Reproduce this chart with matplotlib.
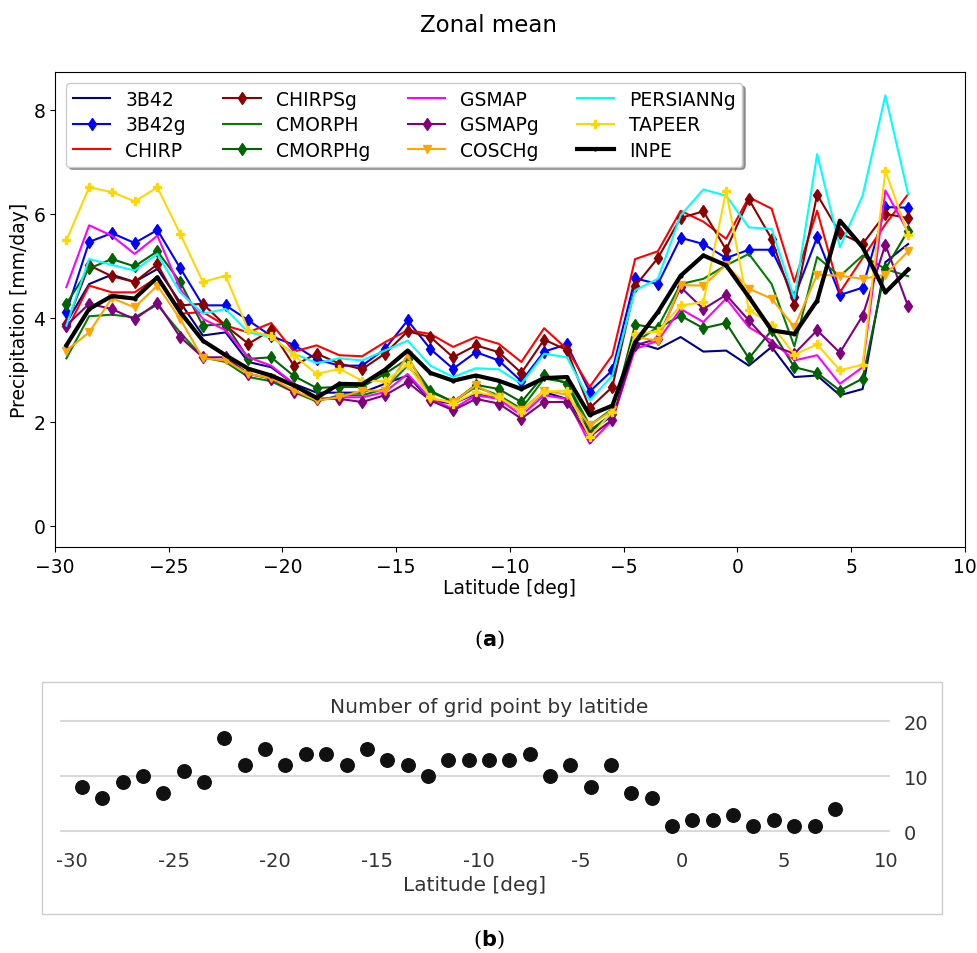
import matplotlib
matplotlib.use("Agg")
import matplotlib.pyplot as plt
from matplotlib.patches import Rectangle

lat = [-29.5, -28.5, -27.5, -26.5, -25.5, -24.5, -23.5, -22.5, -21.5, -20.5,
       -19.5, -18.5, -17.5, -16.5, -15.5, -14.5, -13.5, -12.5, -11.5, -10.5,
       -9.5, -8.5, -7.5, -6.5, -5.5, -4.5, -3.5, -2.5, -1.5, -0.5,
       0.5, 1.5, 2.5, 3.5, 4.5, 5.5, 6.5, 7.5]

b42 = [3.90, 4.65, 4.83, 4.69, 4.94, 4.30, 3.66, 3.72, 3.15, 3.05, 2.73, 2.56, 2.56, 2.56, 2.73, 2.89, 2.41, 2.35, 2.54, 2.48,
       2.19, 2.57, 2.44, 1.81, 2.12, 3.53, 3.40, 3.63, 3.35, 3.37, 3.08, 3.44, 2.86, 2.89, 2.51, 2.63, 5.07, 5.42]
b42g = [4.11, 5.46, 5.63, 5.44, 5.69, 4.96, 4.24, 4.24, 3.95, 3.65, 3.48, 3.20, 3.08, 3.08, 3.40, 3.95, 3.40, 3.02, 3.34, 3.18,
        2.78, 3.35, 3.49, 2.58, 2.99, 4.76, 4.65, 5.54, 5.42, 5.15, 5.31, 5.31, 4.40, 5.55, 4.44, 4.58, 6.13, 6.12]
chirp = [3.75, 4.62, 4.49, 4.49, 4.78, 4.08, 4.11, 3.85, 3.72, 3.90, 3.35, 3.47, 3.28, 3.26, 3.53, 3.76, 3.69, 3.44, 3.63, 3.50,
         3.15, 3.80, 3.40, 2.67, 3.28, 5.13, 5.28, 6.06, 5.85, 5.52, 6.32, 6.10, 4.69, 6.06, 4.49, 5.15, 5.80, 6.38]
chirpsg = [3.88, 5.01, 4.80, 4.69, 5.03, 4.24, 4.27, 3.85, 3.50, 3.76, 3.08, 3.31, 3.12, 3.01, 3.31, 3.74, 3.63, 3.24, 3.47, 3.34,
           2.94, 3.58, 3.38, 2.26, 2.67, 4.61, 5.15, 5.92, 6.05, 5.31, 6.28, 5.52, 4.24, 6.37, 5.63, 5.42, 6.00, 5.92]
cmorph = [3.22, 4.03, 4.06, 4.01, 4.25, 3.72, 3.24, 3.15, 2.86, 2.78, 2.57, 2.39, 2.51, 2.51, 2.63, 3.08, 2.57, 2.39, 2.67, 2.51,
          2.25, 2.83, 2.76, 1.93, 2.25, 3.53, 3.82, 4.65, 4.75, 5.01, 5.23, 4.65, 3.45, 5.17, 4.80, 5.20, 4.94, 4.80]
cmorphg = [4.27, 4.95, 5.13, 4.99, 5.28, 4.69, 3.85, 3.88, 3.21, 3.24, 2.88, 2.65, 2.67, 2.67, 2.92, 3.21, 2.60, 2.38, 2.71, 2.63,
           2.38, 2.90, 2.73, 1.83, 2.15, 3.87, 3.80, 4.04, 3.80, 3.90, 3.22, 3.76, 3.05, 2.94, 2.60, 2.83, 4.94, 5.68]
gsmap = [4.59, 5.78, 5.58, 5.23, 5.58, 4.56, 3.98, 3.76, 3.24, 3.08, 2.73, 2.44, 2.47, 2.47, 2.57, 2.92, 2.44, 2.25, 2.51, 2.44,
         2.12, 2.51, 2.44, 1.58, 2.03, 3.40, 3.56, 4.17, 3.92, 4.37, 3.82, 3.56, 3.18, 3.28, 2.73, 3.05, 6.45, 5.65]
gsmapg = [3.85, 4.27, 4.17, 3.97, 4.29, 3.63, 3.24, 3.24, 2.92, 2.83, 2.57, 2.44, 2.44, 2.38, 2.51, 2.76, 2.41, 2.22, 2.44, 2.35,
          2.06, 2.38, 2.38, 1.71, 2.04, 3.47, 3.60, 4.59, 4.17, 4.44, 3.95, 3.47, 3.31, 3.76, 3.33, 4.04, 5.41, 4.22]
coschg = [3.37, 3.72, 4.38, 4.20, 4.62, 3.98, 3.22, 3.18, 2.92, 2.84, 2.60, 2.41, 2.47, 2.60, 2.60, 3.28, 2.44, 2.38, 2.70, 2.47,
          2.22, 2.60, 2.52, 1.93, 2.22, 3.63, 3.56, 4.63, 4.62, 5.02, 4.56, 4.37, 3.82, 4.83, 4.81, 4.75, 4.83, 5.28]
persianng = [3.85, 5.13, 5.02, 4.91, 5.23, 4.49, 4.08, 4.17, 3.72, 3.63, 3.31, 3.13, 3.22, 3.18, 3.37, 3.56, 3.08, 2.86, 3.03, 3.01,
             2.73, 3.31, 3.24, 2.41, 2.89, 4.53, 4.75, 5.97, 6.47, 6.35, 5.74, 5.71, 4.37, 7.15, 5.36, 6.35, 8.28, 6.38]
tapeer = [5.49, 6.51, 6.42, 6.24, 6.51, 5.62, 4.69, 4.81, 3.76, 3.65, 3.28, 2.92, 3.02, 2.79, 2.78, 3.10, 2.47, 2.35, 2.57, 2.48,
          2.19, 2.58, 2.60, 1.71, 2.19, 3.69, 3.74, 4.24, 4.30, 6.44, 4.15, 3.87, 3.29, 3.49, 2.99, 3.10, 6.83, 5.60]
inpe = [3.47, 4.17, 4.42, 4.37, 4.78, 4.11, 3.56, 3.28, 3.02, 2.89, 2.70, 2.46, 2.73, 2.72, 3.00, 3.37, 2.94, 2.79, 2.89, 2.79,
        2.63, 2.84, 2.86, 2.13, 2.31, 3.53, 4.11, 4.81, 5.20, 5.01, 4.40, 3.76, 3.69, 4.33, 5.87, 5.36, 4.49, 4.93]

grid_points = [8, 6, 9, 10, 7, 11, 9, 17, 12, 15, 12, 14, 14, 12, 15, 13, 12, 10, 13, 13,
               13, 13, 14, 10, 12, 8, 12, 7, 6, 1, 2, 2, 3, 1, 2, 1, 1, 4]

series = [
    ("3B42", b42, "darkblue", None, 1.5),
    ("3B42g", b42g, "blue", "d", 1.5),
    ("CHIRP", chirp, "red", None, 1.5),
    ("CHIRPSg", chirpsg, "darkred", "d", 1.5),
    ("CMORPH", cmorph, "green", None, 1.5),
    ("CMORPHg", cmorphg, "darkgreen", "d", 1.5),
    ("GSMAP", gsmap, "magenta", None, 1.5),
    ("GSMAPg", gsmapg, "purple", "d", 1.5),
    ("COSCHg", coschg, "orange", "v", 1.5),
    ("PERSIANNg", persianng, "cyan", None, 1.5),
    ("TAPEER", tapeer, "gold", "P", 1.5),
    ("INPE", inpe, "black", ".", 3.0),
]

W, H = 978, 954
fig = plt.figure(figsize=(W / 100, H / 100), dpi=100)

# ---- top panel ----
ax = fig.add_axes([55 / W, 1 - 548 / H, (965 - 55) / W, (548 - 73) / H])
for name, vals, col, mk, lw in series:
    ax.plot(lat, vals, color=col, marker=mk, lw=lw, label=name,
            markersize=6 if mk != "." else 4)
ax.set_xlim(-30, 10)
ax.set_ylim(-0.41, 8.73)
ax.set_xticks([-30, -25, -20, -15, -10, -5, 0, 5, 10])
ax.set_yticks([0, 2, 4, 6, 8])
ax.tick_params(labelsize=13.5)
ax.set_xlabel("Latitude [deg]", fontsize=13.5, labelpad=2)
ax.set_ylabel("Precipitation [mm/day]", fontsize=13.5, labelpad=3)
ax.legend(loc="upper left", ncol=4, fontsize=13.5, shadow=True, fancybox=True,
          columnspacing=2.0, handlelength=2.0, borderpad=0.35, labelspacing=0.35,
          borderaxespad=0.6)
fig.text(489 / W, 1 - 25 / H, "Zonal mean", ha="center", va="center", fontsize=16.5)

fig.text(489 / W, 1 - 640 / H, r"($\mathbf{a}$)", ha="center", va="center",
         fontsize=15, family="DejaVu Serif")
fig.text(489 / W, 1 - 940 / H, r"($\mathbf{b}$)", ha="center", va="center",
         fontsize=15, family="DejaVu Serif")

# ---- bottom panel ----
fig.patches.append(Rectangle((42 / W, 1 - 915 / H), (942 - 42) / W, (915 - 683) / H,
                             transform=fig.transFigure, fill=False,
                             edgecolor="#cccccc", lw=1.0))
bx = fig.add_axes([60 / W, 1 - 838 / H, (890 - 60) / W, (838 - 700) / H])
bx.scatter(lat, grid_points, s=95, color="#111111", zorder=3)
bx.set_xlim(-30.58, 10.21)
bx.set_ylim(-1.09, 24)
bx.set_yticks([0, 10, 20])
bx.set_xticks([-30, -25, -20, -15, -10, -5, 0, 5, 10])
bx.set_xticklabels(["-30", "-25", "-20", "-15", "-10", "-5", "0", "5", "10"])
bx.yaxis.tick_right()
bx.grid(axis="y", color="#d9d9d9", lw=1.5)
bx.set_axisbelow(True)
for s in bx.spines.values():
    s.set_visible(False)
bx.tick_params(length=0, labelsize=14, colors="#333333", pad=10)
bx.set_xlabel("Latitude [deg]", fontsize=14.5, color="#333333", labelpad=4)
fig.text(489 / W, 1 - 708 / H, "Number of grid point by latitide", ha="center",
         va="center", fontsize=14.5, color="#333333")

fig.savefig("out.png", dpi=100)
